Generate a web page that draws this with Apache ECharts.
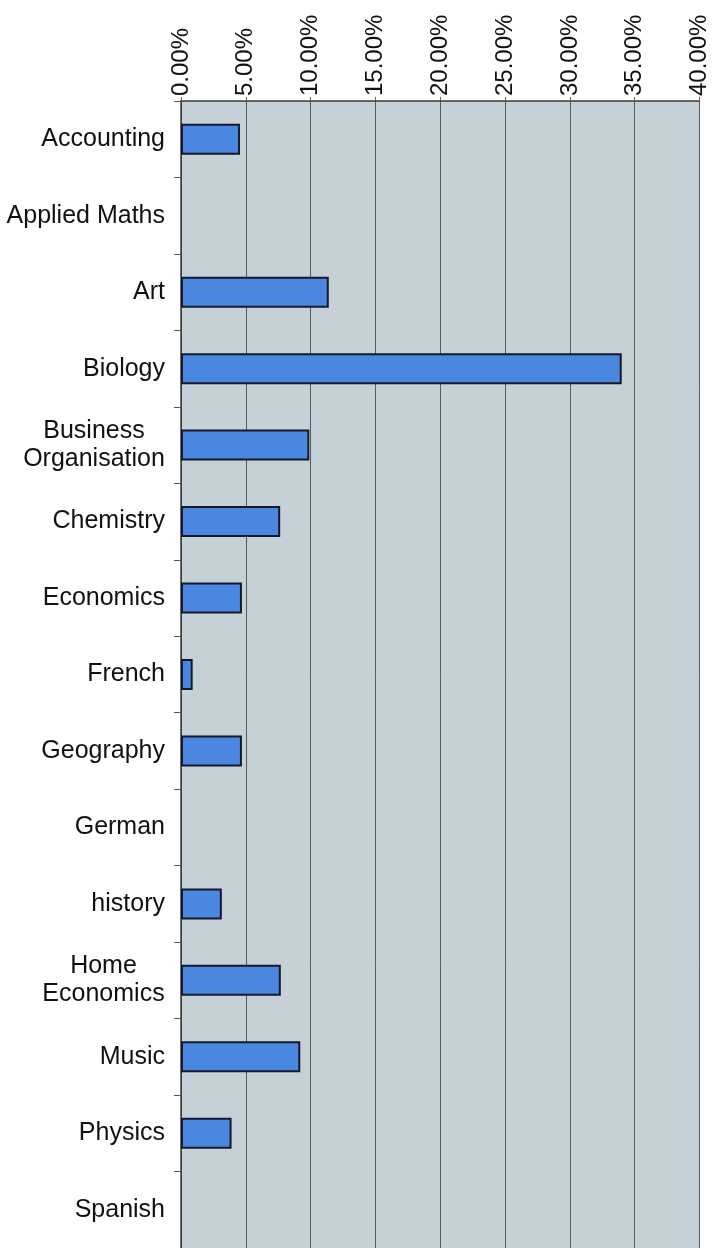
<!DOCTYPE html>
<html>
<head>
<meta charset="utf-8">
<script src="https://cdn.jsdelivr.net/npm/echarts@6/dist/echarts.min.js"></script>
<style>
  html, body { margin: 0; padding: 0; background: #ffffff; }
  #chart { width: 718px; height: 1248px; }
</style>
</head>
<body>
<div id="chart"></div>
<script>
// Subjects (top to bottom) and share of students taking each, in percent
var subjects = [
  'Accounting', 'Applied Maths', 'Art', 'Biology', 'Business\nOrganisation',
  'Chemistry', 'Economics', 'French', 'Geography', 'German',
  'history', 'Home\nEconomics', 'Music', 'Physics', 'Spanish'
];
var shares = [4.55, 0, 11.4, 34.0, 9.9, 7.65, 4.7, 0.9, 4.7, 0, 3.15, 7.7, 9.2, 3.9, 0];
var axisMin = 0, axisMax = 40, axisStep = 5;

var FONT = '"Liberation Sans", Arial, sans-serif';
var TICK_SIZE = 24;
var CAT_SIZE = 25;

// width of the widest line of a label, so multi-line labels can be centred
var ctx = document.createElement('canvas').getContext('2d');
ctx.font = CAT_SIZE + 'px ' + FONT;
function widest(label) {
  return Math.max.apply(null, label.split('\n').map(function (s) { return ctx.measureText(s).width; }));
}

// one rich style per multi-line label, each as wide as its longest line
var rich = {};
var richKey = {};
subjects.forEach(function (s, i) {
  if (s.indexOf('\n') >= 0) {
    var key = 'm' + i;
    richKey[s] = key;
    rich[key] = {
      fontFamily: FONT, fontSize: CAT_SIZE, color: '#111', lineHeight: 28,
      align: 'center', width: Math.ceil(widest(s))
    };
  }
});

// zero-valued bars get no outline so nothing shows on the axis
var barData = shares.map(function (v) {
  return v === 0 ? { value: v, itemStyle: { borderWidth: 0 } } : v;
});

var chart = echarts.init(document.getElementById('chart'), null, { renderer: 'canvas' });
chart.setOption({
  animation: false,
  backgroundColor: '#ffffff',
  grid: {
    left: 181, top: 101, width: 518.5, height: 1152,
    show: true, backgroundColor: '#C6D0D7', borderWidth: 0
  },
  xAxis: {
    type: 'value', position: 'top',
    min: axisMin, max: axisMax, interval: axisStep,
    axisLine: { show: true, lineStyle: { color: '#3a3a3a', width: 1.5 } },
    axisTick: { show: true, length: 4, lineStyle: { color: '#666' } },
    splitLine: { show: true, lineStyle: { color: '#555a5e', width: 1 } },
    axisLabel: {
      rotate: -90, margin: 5,
      fontFamily: FONT, fontSize: TICK_SIZE, color: '#111',
      formatter: function (v) { return v.toFixed(2) + '%'; }
    }
  },
  yAxis: {
    type: 'category', data: subjects, inverse: true,
    axisLine: { show: true, lineStyle: { color: '#3a3a3a', width: 1.5 } },
    axisTick: { show: true, length: 7, lineStyle: { color: '#555' } },
    splitLine: { show: false },
    axisLabel: {
      margin: 16, fontFamily: FONT, fontSize: CAT_SIZE, color: '#111',
      lineHeight: 28, align: 'right',
      formatter: function (v) {
        var key = richKey[v];
        if (!key) return v;
        return v.split('\n').map(function (s) { return '{' + key + '|' + s + '}'; }).join('\n');
      },
      rich: rich
    }
  },
  series: [{
    type: 'bar',
    data: barData,
    barWidth: 31,
    itemStyle: { color: '#4A87E0', borderColor: '#15192a', borderWidth: 2 }
  }]
});
</script>
</body>
</html>
